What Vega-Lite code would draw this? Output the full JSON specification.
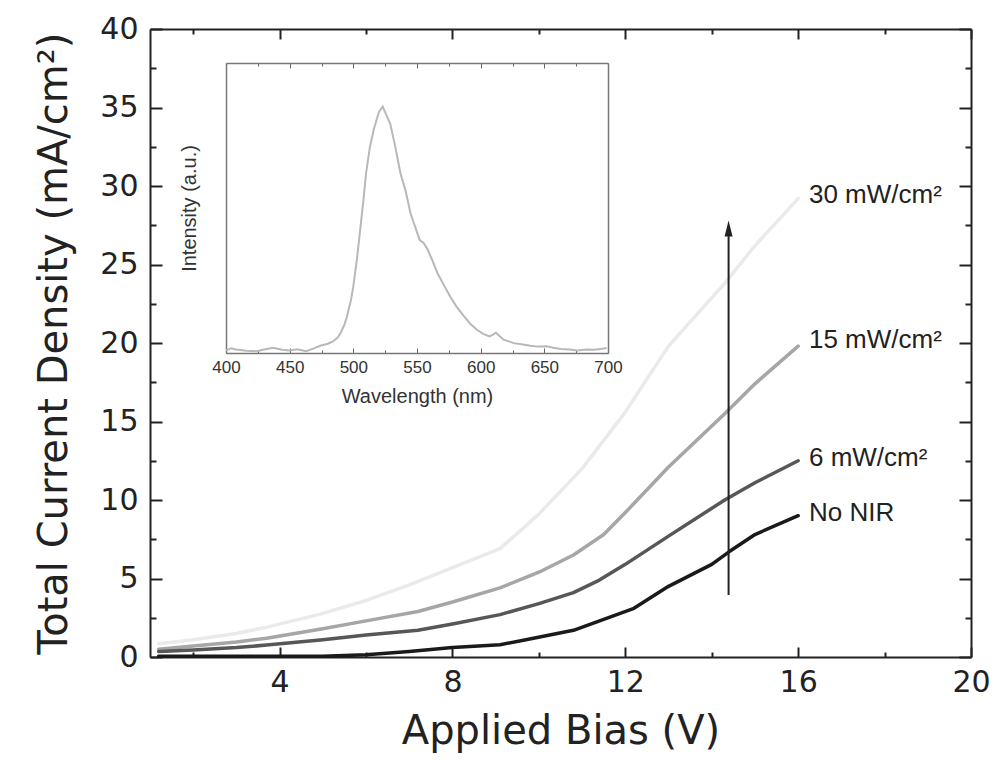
{
  "$schema": "https://vega.github.io/schema/vega-lite/v6.json",
  "width": 821,
  "height": 628,
  "autosize": "none",
  "padding": {"left": 150, "top": 29, "right": 26, "bottom": 103},
  "background": "white",
  "config": {"view": {"stroke": null}, "axis": {"grid": false, "labelFlush": false, "labelOverlap": false, "labelBound": false}},
  "datasets": {
    "jv": [
      {"series": "30 mW", "V": 1.2, "J": 0.85}, {"series": "30 mW", "V": 2, "J": 1.1}, {"series": "30 mW", "V": 3, "J": 1.5}, {"series": "30 mW", "V": 3.7, "J": 1.9}, {"series": "30 mW", "V": 4.9, "J": 2.7}, {"series": "30 mW", "V": 6, "J": 3.6}, {"series": "30 mW", "V": 7, "J": 4.6}, {"series": "30 mW", "V": 8, "J": 5.7}, {"series": "30 mW", "V": 9.1, "J": 6.9}, {"series": "30 mW", "V": 10, "J": 9.1}, {"series": "30 mW", "V": 11, "J": 12.0}, {"series": "30 mW", "V": 12, "J": 15.6}, {"series": "30 mW", "V": 13, "J": 19.8}, {"series": "30 mW", "V": 14.3, "J": 23.8}, {"series": "30 mW", "V": 15, "J": 26.2}, {"series": "30 mW", "V": 16, "J": 29.2},
      {"series": "15 mW", "V": 1.2, "J": 0.5}, {"series": "15 mW", "V": 2, "J": 0.7}, {"series": "15 mW", "V": 3, "J": 0.95}, {"series": "15 mW", "V": 3.7, "J": 1.2}, {"series": "15 mW", "V": 5, "J": 1.8}, {"series": "15 mW", "V": 6, "J": 2.3}, {"series": "15 mW", "V": 7.2, "J": 2.9}, {"series": "15 mW", "V": 8, "J": 3.5}, {"series": "15 mW", "V": 9.1, "J": 4.4}, {"series": "15 mW", "V": 10, "J": 5.4}, {"series": "15 mW", "V": 10.8, "J": 6.5}, {"series": "15 mW", "V": 11.5, "J": 7.8}, {"series": "15 mW", "V": 12, "J": 9.2}, {"series": "15 mW", "V": 13, "J": 12.1}, {"series": "15 mW", "V": 14.3, "J": 15.5}, {"series": "15 mW", "V": 15, "J": 17.4}, {"series": "15 mW", "V": 16, "J": 19.8},
      {"series": "6 mW", "V": 1.2, "J": 0.35}, {"series": "6 mW", "V": 2, "J": 0.45}, {"series": "6 mW", "V": 3, "J": 0.6}, {"series": "6 mW", "V": 3.7, "J": 0.76}, {"series": "6 mW", "V": 5, "J": 1.1}, {"series": "6 mW", "V": 6, "J": 1.4}, {"series": "6 mW", "V": 7.2, "J": 1.7}, {"series": "6 mW", "V": 8, "J": 2.1}, {"series": "6 mW", "V": 9.1, "J": 2.7}, {"series": "6 mW", "V": 10, "J": 3.4}, {"series": "6 mW", "V": 10.8, "J": 4.1}, {"series": "6 mW", "V": 11.4, "J": 4.9}, {"series": "6 mW", "V": 12, "J": 5.9}, {"series": "6 mW", "V": 13, "J": 7.7}, {"series": "6 mW", "V": 14.3, "J": 10.0}, {"series": "6 mW", "V": 15, "J": 11.1}, {"series": "6 mW", "V": 16, "J": 12.5},
      {"series": "No NIR", "V": 1.2, "J": 0.05}, {"series": "No NIR", "V": 3, "J": 0.05}, {"series": "No NIR", "V": 5, "J": 0.05}, {"series": "No NIR", "V": 6, "J": 0.15}, {"series": "No NIR", "V": 7, "J": 0.35}, {"series": "No NIR", "V": 8, "J": 0.6}, {"series": "No NIR", "V": 9.1, "J": 0.78}, {"series": "No NIR", "V": 9.7, "J": 1.1}, {"series": "No NIR", "V": 10.8, "J": 1.7}, {"series": "No NIR", "V": 11.5, "J": 2.4}, {"series": "No NIR", "V": 12.2, "J": 3.1}, {"series": "No NIR", "V": 13, "J": 4.5}, {"series": "No NIR", "V": 14, "J": 5.9}, {"series": "No NIR", "V": 14.4, "J": 6.7}, {"series": "No NIR", "V": 15, "J": 7.8}, {"series": "No NIR", "V": 16, "J": 9.0}
    ],
    "labels": [
      {"V": 16.25, "J": 29.4, "label": "30 mW/cm²"},
      {"V": 16.25, "J": 20.2, "label": "15 mW/cm²"},
      {"V": 16.25, "J": 12.7, "label": "6 mW/cm²"},
      {"V": 16.25, "J": 9.2, "label": "No NIR"}
    ],
    "arrow": [{"V": 14.39, "J": 3.95, "J2": 27.0, "Jhead": 27.3}],
    "spectrum": [
      {"wl": 400, "I": 0.009}, {"wl": 404, "I": 0.016}, {"wl": 408, "I": 0.012}, {"wl": 416, "I": 0.008}, {"wl": 424, "I": 0.006}, {"wl": 430, "I": 0.012}, {"wl": 437, "I": 0.018}, {"wl": 444, "I": 0.011}, {"wl": 450, "I": 0.009}, {"wl": 456, "I": 0.013}, {"wl": 463, "I": 0.006}, {"wl": 469, "I": 0.016}, {"wl": 474, "I": 0.025}, {"wl": 480, "I": 0.032}, {"wl": 484, "I": 0.04}, {"wl": 488, "I": 0.055}, {"wl": 490, "I": 0.069}, {"wl": 493, "I": 0.098}, {"wl": 495, "I": 0.126}, {"wl": 498, "I": 0.18}, {"wl": 500, "I": 0.23}, {"wl": 503, "I": 0.33}, {"wl": 505, "I": 0.41}, {"wl": 508, "I": 0.53}, {"wl": 510, "I": 0.62}, {"wl": 513, "I": 0.71}, {"wl": 516, "I": 0.77}, {"wl": 520, "I": 0.83}, {"wl": 523, "I": 0.85}, {"wl": 526, "I": 0.82}, {"wl": 529, "I": 0.79}, {"wl": 533, "I": 0.71}, {"wl": 537, "I": 0.62}, {"wl": 541, "I": 0.56}, {"wl": 545, "I": 0.48}, {"wl": 549, "I": 0.43}, {"wl": 552, "I": 0.39}, {"wl": 555, "I": 0.38}, {"wl": 558, "I": 0.36}, {"wl": 562, "I": 0.32}, {"wl": 566, "I": 0.276}, {"wl": 571, "I": 0.235}, {"wl": 576, "I": 0.195}, {"wl": 581, "I": 0.16}, {"wl": 587, "I": 0.126}, {"wl": 592, "I": 0.1}, {"wl": 597, "I": 0.08}, {"wl": 602, "I": 0.066}, {"wl": 607, "I": 0.057}, {"wl": 610, "I": 0.064}, {"wl": 612, "I": 0.07}, {"wl": 615, "I": 0.058}, {"wl": 618, "I": 0.046}, {"wl": 622, "I": 0.04}, {"wl": 626, "I": 0.034}, {"wl": 632, "I": 0.03}, {"wl": 639, "I": 0.025}, {"wl": 645, "I": 0.022}, {"wl": 652, "I": 0.023}, {"wl": 657, "I": 0.018}, {"wl": 663, "I": 0.014}, {"wl": 670, "I": 0.012}, {"wl": 676, "I": 0.009}, {"wl": 683, "I": 0.012}, {"wl": 689, "I": 0.011}, {"wl": 694, "I": 0.014}, {"wl": 699, "I": 0.017}
    ]
  },
  "resolve": {"scale": {"x": "independent", "y": "independent"}, "axis": {"x": "independent", "y": "independent"}},
  "layer": [
    {
      "data": {"name": "jv"},
      "mark": {"type": "line", "strokeWidth": 3.5, "strokeJoin": "round", "strokeCap": "round"},
      "encoding": {
        "x": {"field": "V", "type": "quantitative", "scale": {"domain": [1, 20], "nice": false, "zero": false},
          "axis": {"orient": "bottom", "values": [2, 4, 6, 8, 10, 12, 14, 16, 18, 20],
            "labelExpr": "datum.value % 4 === 0 ? datum.label : ''",
            "tickSize": {"condition": {"test": "datum.value % 4 === 0", "value": -10}, "value": -5},
            "tickWidth": 2, "tickColor": "#222", "domainColor": "#222", "domainWidth": 2,
            "labelFont": "DejaVu Sans", "labelFontSize": 30, "labelColor": "#222", "labelPadding": 20,
            "title": "Applied Bias (V)", "titleFont": "DejaVu Sans", "titleFontSize": 40, "titleFontWeight": "normal", "titleColor": "#222", "titlePadding": 9}},
        "y": {"field": "J", "type": "quantitative", "scale": {"domain": [0, 40], "nice": false},
          "axis": {"orient": "left", "values": [0, 2.5, 5, 7.5, 10, 12.5, 15, 17.5, 20, 22.5, 25, 27.5, 30, 32.5, 35, 37.5, 40],
            "labelExpr": "datum.value % 5 === 0 ? datum.label : ''",
            "tickSize": {"condition": {"test": "datum.value % 5 === 0", "value": -12}, "value": -6},
            "tickWidth": 2, "tickColor": "#222", "domainColor": "#222", "domainWidth": 2,
            "labelFont": "DejaVu Sans", "labelFontSize": 30, "labelColor": "#222", "labelPadding": 24,
            "title": "Total Current Density (mA/cm²)", "titleFont": "DejaVu Sans", "titleFontSize": 40, "titleFontWeight": "normal", "titleColor": "#222", "titlePadding": 25}},
        "color": {"field": "series", "type": "nominal", "legend": null,
          "scale": {"domain": ["30 mW", "15 mW", "6 mW", "No NIR"], "range": ["#eaeaea", "#a6a6a6", "#575757", "#1a1a1a"]}},
        "order": {"field": "V", "type": "quantitative"}
      }
    },
    {
      "data": {"name": "jv"},
      "mark": {"type": "line", "opacity": 0},
      "encoding": {
        "x": {"field": "V", "type": "quantitative", "scale": {"domain": [1, 20], "nice": false, "zero": false},
          "axis": {"orient": "top", "values": [2, 4, 6, 8, 10, 12, 14, 16, 18, 20], "labels": false, "title": null,
            "tickSize": {"condition": {"test": "datum.value % 4 === 0", "value": -10}, "value": -5},
            "tickWidth": 2, "tickColor": "#222", "domainColor": "#222", "domainWidth": 2}},
        "y": {"field": "J", "type": "quantitative", "scale": {"domain": [0, 40], "nice": false},
          "axis": {"orient": "right", "values": [0, 2.5, 5, 7.5, 10, 12.5, 15, 17.5, 20, 22.5, 25, 27.5, 30, 32.5, 35, 37.5, 40], "labels": false, "title": null,
            "tickSize": {"condition": {"test": "datum.value % 5 === 0", "value": -12}, "value": -6},
            "tickWidth": 2, "tickColor": "#222", "domainColor": "#222", "domainWidth": 2}},
        "detail": {"field": "series", "type": "nominal"}
      }
    },
    {
      "data": {"name": "arrow"},
      "mark": {"type": "rule", "color": "#222", "strokeWidth": 2},
      "encoding": {
        "x": {"field": "V", "type": "quantitative", "scale": {"domain": [1, 20], "nice": false, "zero": false}, "axis": null},
        "y": {"field": "J", "type": "quantitative", "scale": {"domain": [0, 40], "nice": false}, "axis": null},
        "y2": {"field": "J2"}
      }
    },
    {
      "data": {"name": "arrow"},
      "mark": {"type": "point", "shape": "M0,-1L0.5,1L-0.5,1Z", "filled": true, "color": "#222", "opacity": 1, "size": 256},
      "encoding": {
        "x": {"field": "V", "type": "quantitative", "scale": {"domain": [1, 20], "nice": false, "zero": false}, "axis": null},
        "y": {"field": "Jhead", "type": "quantitative", "scale": {"domain": [0, 40], "nice": false}, "axis": null}
      }
    },
    {
      "data": {"name": "labels"},
      "mark": {"type": "text", "align": "left", "baseline": "middle", "font": "Liberation Sans", "fontSize": 26, "color": "#222"},
      "encoding": {
        "x": {"field": "V", "type": "quantitative", "scale": {"domain": [1, 20], "nice": false, "zero": false}, "axis": null},
        "y": {"field": "J", "type": "quantitative", "scale": {"domain": [0, 40], "nice": false}, "axis": null},
        "text": {"field": "label"}
      }
    },
    {
      "data": {"name": "spectrum"},
      "mark": {"type": "line", "color": "#b8b8b8", "strokeWidth": 2},
      "encoding": {
        "x": {"field": "wl", "type": "quantitative", "scale": {"domain": [400, 700], "range": [76, 458], "nice": false, "zero": false},
          "axis": {"orient": "bottom", "offset": -304, "values": [400, 425, 450, 475, 500, 525, 550, 575, 600, 625, 650, 675, 700],
            "labelExpr": "datum.value % 50 === 0 ? datum.label : ''",
            "tickSize": {"condition": {"test": "datum.value % 50 === 0", "value": -5}, "value": -3},
            "tickWidth": 1, "tickColor": "#666", "domainColor": "#777", "domainWidth": 1.5,
            "labelFont": "Liberation Sans", "labelFontSize": 17, "labelColor": "#333", "labelPadding": 11,
            "title": "Wavelength (nm)", "titleFont": "Liberation Sans", "titleFontSize": 20, "titleFontWeight": "normal", "titleColor": "#333", "titlePadding": 9}},
        "y": {"field": "I", "type": "quantitative", "scale": {"domain": [0, 1], "range": [324, 34], "nice": false},
          "axis": {"orient": "left", "offset": -76, "ticks": false, "labels": false, "domainColor": "#777", "domainWidth": 1.5,
            "title": "Intensity (a.u.)", "titleFont": "Liberation Sans", "titleFontSize": 20, "titleFontWeight": "normal", "titleColor": "#333", "titlePadding": 27}}
      }
    },
    {
      "data": {"name": "spectrum"},
      "mark": {"type": "line", "opacity": 0},
      "encoding": {
        "x": {"field": "wl", "type": "quantitative", "scale": {"domain": [400, 700], "range": [76, 458], "nice": false, "zero": false},
          "axis": {"orient": "top", "offset": -34, "values": [400, 425, 450, 475, 500, 525, 550, 575, 600, 625, 650, 675, 700], "labels": false, "title": null,
            "tickSize": {"condition": {"test": "datum.value % 50 === 0", "value": -5}, "value": -3},
            "tickWidth": 1, "tickColor": "#666", "domainColor": "#777", "domainWidth": 1.5}},
        "y": {"field": "I", "type": "quantitative", "scale": {"domain": [0, 1], "range": [324, 34], "nice": false},
          "axis": {"orient": "right", "offset": -363, "ticks": false, "labels": false, "title": null, "domainColor": "#777", "domainWidth": 1.5}}
      }
    }
  ]
}
